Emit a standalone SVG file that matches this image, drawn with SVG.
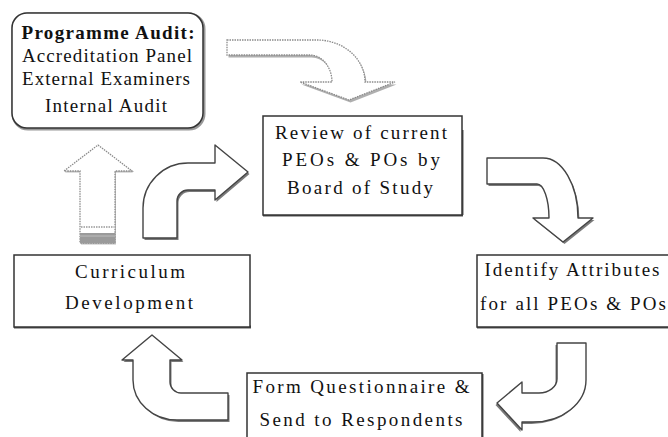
<svg xmlns="http://www.w3.org/2000/svg" xmlns:xlink="http://www.w3.org/1999/xlink" width="668" height="437" viewBox="0 0 668 437">
<style>
  .box { fill: #ffffff; stroke: #333333; stroke-width: 1.5; }
  .boxshadow { fill: none; stroke: #555555; stroke-width: 3; }
  text { font-family: Liberation Serif, Times New Roman, Times, serif; font-size: 19px; fill: #111111; text-anchor: middle; }
  .tb { font-weight: bold; }
  .shadow { fill: #7a7a7a; stroke: none; }
  .body { fill: #ffffff; stroke: #444444; stroke-width: 1.4; stroke-linejoin: round; }
  .light { fill: #ffffff; stroke: #8a8a8a; stroke-width: 1.3; stroke-dasharray: 1.5 1; }
</style>
<defs>
  <path id="pA1" d="M 98 145 L 132 171 L 115 171 L 115 243 L 80 243 L 80 171 L 64 171 Z"/>
  <path id="pA2" d="M 143 238 L 143 208 A 45 45 0 0 1 188 163 L 215 163 L 215 145 L 248 172 L 215 200 L 215 190 L 188 190 A 11 11 0 0 0 177 201 L 177 238 Z"/>
  <path id="pA3" d="M 227 40 L 317 40 A 48 42 0 0 1 365 82 L 395 82 L 349 100 L 300 82 L 332 82 A 22 27 0 0 0 310 55 L 227 55 Z"/>
  <path id="pA4" d="M 487 158 L 543 158 A 35 60 0 0 1 578 218 L 593 218 L 563 242 L 533 218 L 549 218 A 12 34 0 0 0 537 184 L 487 184 Z"/>
  <path id="pA5" d="M 557 343 L 586 343 L 586 380 A 53 42 0 0 1 533 422 L 522 422 L 522 430 L 497 403 L 522 382 L 522 393 L 539 393 A 18 14 0 0 0 557 379 Z"/>
  <path id="pA6" d="M 152 335 L 182 360 L 170 360 L 170 382 A 11 11 0 0 0 181 393 L 228 393 L 228 420 L 177 420 A 44 40 0 0 1 133 380 L 133 360 L 122 360 Z"/>
</defs>

<g id="connectors">
  <g id="arrow-audit-to-review">
    <use xlink:href="#pA3" class="shadow" transform="translate(1.5,2.5)" opacity="0.6"/>
    <use xlink:href="#pA3" class="light"/>
  </g>
  <g id="arrow-review-to-identify">
    <use xlink:href="#pA4" class="shadow" transform="translate(1.5,2)"/>
    <use xlink:href="#pA4" class="body"/>
  </g>
  <g id="arrow-identify-to-form">
    <use xlink:href="#pA5" class="shadow" transform="translate(-1.5,2)"/>
    <use xlink:href="#pA5" class="body"/>
  </g>
  <g id="arrow-form-to-curriculum">
    <use xlink:href="#pA6" class="shadow" transform="translate(1.5,2)"/>
    <use xlink:href="#pA6" class="body"/>
  </g>
  <g id="arrow-curriculum-to-review">
    <use xlink:href="#pA2" class="shadow" transform="translate(1.5,2)"/>
    <use xlink:href="#pA2" class="body"/>
  </g>
  <g id="arrow-curriculum-to-audit">
    <use xlink:href="#pA1" class="shadow" transform="translate(1,1.5)" opacity="0.5"/>
    <use xlink:href="#pA1" class="light"/>
    <line x1="81" y1="227" x2="114" y2="227" stroke="#666" stroke-width="1.2" stroke-dasharray="1.5 1"/>
    <rect x="80" y="233" width="35" height="10" fill="#9a9a9a"/>
    <line x1="80" y1="236" x2="115" y2="236" stroke="#bdbdbd" stroke-width="1"/>
  </g>
</g>

<g id="node-audit" font-family="Liberation Serif, serif">
  <rect x="13" y="14" width="191" height="115" rx="15" class="boxshadow" opacity="0.6"/>
  <rect x="12" y="13" width="191" height="115" rx="15" class="box"/>
  <text x="108" y="39" class="tb" textLength="173">Programme Audit:</text>
  <text x="107" y="62" textLength="170">Accreditation Panel</text>
  <text x="106" y="85" textLength="168">External Examiners</text>
  <text x="106" y="112" textLength="122">Internal Audit</text>
</g>

<g id="node-review">
  <line x1="263" y1="215" x2="463" y2="215" class="boxshadow"/>
  <line x1="462" y1="130" x2="462" y2="215" class="boxshadow" stroke-width="2"/>
  <rect x="263" y="116" width="199" height="99" class="box"/>
  <text x="361" y="139" textLength="172">Review of current</text>
  <text x="361" y="166" textLength="158">PEOs &amp; POs by</text>
  <text x="360" y="194" textLength="146">Board of Study</text>
</g>

<g id="node-curriculum">
  <line x1="14" y1="327" x2="251" y2="327" class="boxshadow"/>
  <rect x="14" y="255" width="236" height="72" class="box"/>
  <text x="130" y="278" textLength="110">Curriculum</text>
  <text x="129" y="309" textLength="128">Development</text>
</g>

<g id="node-identify">
  <line x1="477" y1="327" x2="668" y2="327" class="boxshadow"/>
  <rect x="477" y="255" width="193" height="72" class="box"/>
  <text x="572" y="276" textLength="175">Identify Attributes</text>
  <text x="573" y="310" textLength="186">for all PEOs &amp; POs</text>
</g>

<g id="node-form">
  <line x1="482" y1="374" x2="482" y2="437" class="boxshadow" stroke-width="2"/>
  <rect x="247" y="373" width="235" height="72" class="box"/>
  <text x="361" y="393" textLength="217">Form Questionnaire &amp;</text>
  <text x="361" y="426" textLength="203">Send to Respondents</text>
</g>
</svg>
